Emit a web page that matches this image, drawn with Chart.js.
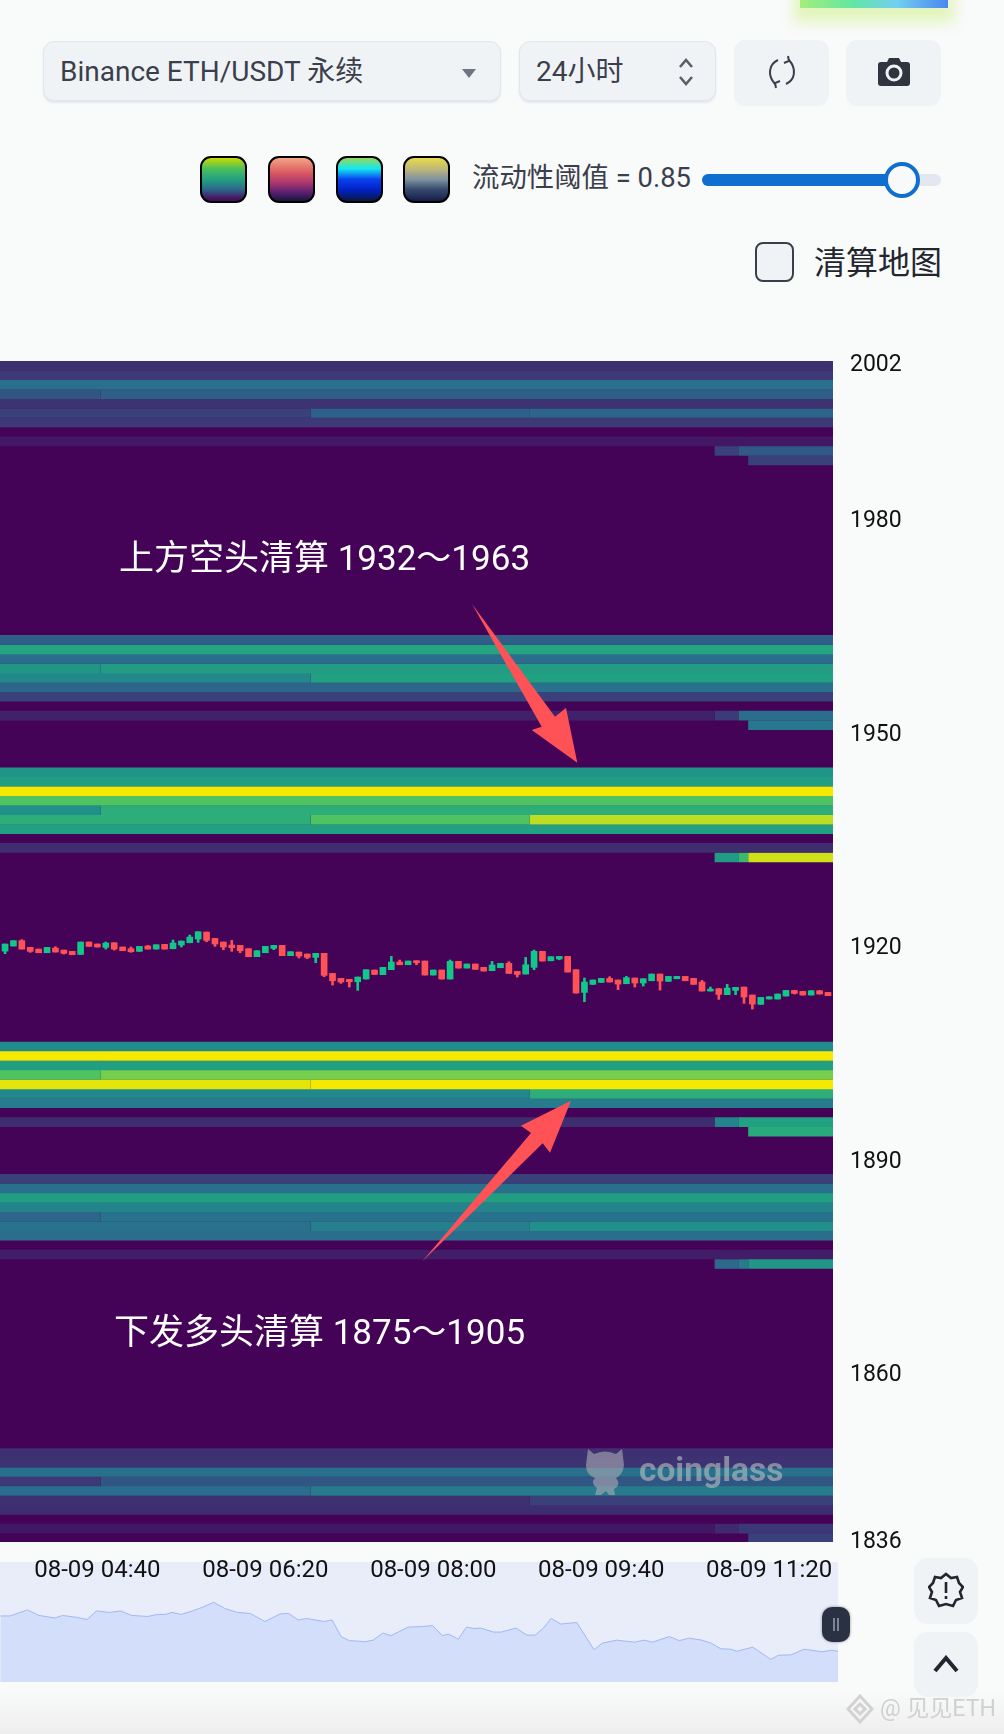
<!DOCTYPE html>
<html lang="zh">
<head>
<meta charset="utf-8">
<title>ETH liquidation heatmap</title>
<script src="https://cdn.jsdelivr.net/npm/chart.js@4/dist/chart.umd.min.js"></script>
<style>
html,body{margin:0;padding:0;background:#f9fafa;}
body{position:relative;width:1004px;height:1734px;overflow:hidden;font-family:Roboto,"Noto Sans CJK SC",sans-serif;color:#3b3f4c;}
#fade{position:absolute;left:0;top:1690px;width:1004px;height:44px;background:linear-gradient(#f9fafa,#eeeeee);}
.abs{position:absolute;}
.sel{position:absolute;top:41px;height:60px;box-sizing:border-box;background:#f0f3f6;border:1.5px solid #e2e6ee;border-radius:11px;box-shadow:0 2px 2px #e4e7ee;}
.btn{position:absolute;background:#f0f3f6;border-radius:11px;}
.txt{position:absolute;white-space:nowrap;line-height:1;}
.sw{position:absolute;top:156px;width:47px;height:47px;box-sizing:border-box;border:2px solid #000;border-radius:11px;}
#navBox{position:absolute;left:0;top:1562px;width:838px;height:120px;background:#e9ecf9;}
#mainBox{position:absolute;left:0;top:340px;width:1004px;height:1260px;}
#over{position:absolute;left:0;top:0;}
</style>
</head>
<body>
<div id="fade"></div>

<!-- top right glow -->
<div class="abs" style="left:800px;top:-10px;width:148px;height:18px;background:linear-gradient(90deg,#a4ee7c,#62e6a0 35%,#72d0f0 65%,#4a86f0);box-shadow:0 8px 14px 6px rgba(215,242,160,.7);"></div>

<!-- controls -->
<div class="sel" style="left:43px;width:458px;"></div>
<div class="txt" style="left:60px;top:58px;font-size:28px;">Binance ETH/USDT 永续</div>
<svg class="abs" style="left:462px;top:69px" width="14" height="9"><path d="M0 0H14L7 9Z" fill="#6f7480"/></svg>
<div class="sel" style="left:519px;width:197px;"></div>
<div class="txt" style="left:536px;top:58px;font-size:28px;">24小时</div>
<svg class="abs" style="left:678px;top:56px" width="16" height="32" fill="none" stroke="#5a5f6b" stroke-width="2.6"><path d="M2 11L8 4L14 11M2 21L8 28L14 21"/></svg>
<div class="btn" style="left:734px;top:40px;width:95px;height:66px;"></div>
<svg class="abs" style="left:766px;top:55px" width="32" height="34" fill="none" stroke="#3b3f4c" stroke-width="2"><path d="M12 5C3 9 1 20 9 29M20 29C29 25 31 14 23 5M22 1L23 6L18 8M10 33L9 28L14 26"/></svg>
<div class="btn" style="left:846px;top:40px;width:95px;height:66px;"></div>
<svg class="abs" style="left:878px;top:58px" width="32" height="28"><path d="M9 4L11 0H21L23 4H29Q32 4 32 7V25Q32 28 29 28H3Q0 28 0 25V7Q0 4 3 4Z" fill="#30343f"/><circle cx="16" cy="15" r="7" fill="none" stroke="#f0f3f6" stroke-width="3"/></svg>

<div class="sw" style="left:200px;background:linear-gradient(#c9dc00,#4cbf5c 25%,#22a080 50%,#2c6a8c 72%,#46105e 95%);"></div>
<div class="sw" style="left:268px;background:linear-gradient(#f4a684,#d85760 35%,#b23a6e 55%,#5a2070 80%,#16163c);"></div>
<div class="sw" style="left:336px;background:linear-gradient(#9ad858,#12e8f0 25%,#0a40f0 50%,#0020c0 75%,#0a1840);"></div>
<div class="sw" style="left:403px;background:linear-gradient(#e8dc48,#c0b878 25%,#7c92a0 50%,#3a4c70 72%,#141c48);"></div>
<div class="txt" style="left:472px;top:165px;font-size:27.4px;">流动性阈值 = 0.85</div>
<div class="abs" style="left:702px;top:174px;width:239px;height:12px;border-radius:6px;background:#e3e8f0;"></div>
<div class="abs" style="left:702px;top:174px;width:200px;height:12px;border-radius:6px 0 0 6px;background:#0e6fd0;"></div>
<div class="abs" style="left:884px;top:162px;width:36px;height:36px;box-sizing:border-box;border:4px solid #0e6fd0;border-radius:50%;background:#f8f9fa;"></div>
<div class="abs" style="left:755px;top:242px;width:39px;height:40px;box-sizing:border-box;border:2px solid #3b3f4c;border-radius:8px;background:#f0f3f6;"></div>
<div class="txt" style="left:814px;top:247px;font-size:32px;color:#23262f;">清算地图</div>

<!-- navigator, sits under the main canvas -->
<div id="navBox"><canvas id="navChart" width="838" height="120"></canvas></div>
<!-- heatmap + candles -->
<div id="mainBox"><canvas id="mainChart" width="1004" height="1260"></canvas></div>

<!-- coinglass watermark -->
<svg class="abs" style="left:583px;top:1445px;opacity:.62" width="45" height="50"><path d="M5 4L11 9Q22 4 33 9L39 4L41 20Q40 30 33 33Q39 40 31 44L32 50H26L23 46L18 50H12L14 43Q7 38 12 33Q3 30 3 20Z" fill="#a8a8b2"/></svg>
<div class="txt" style="left:639px;top:1453px;font-size:33.5px;font-weight:700;color:rgba(180,190,194,.62);">coinglass</div>

<!-- annotations -->
<svg id="over" width="1004" height="1734">
<polygon points="472,604 555,716.7 566,708 577.3,762.7 531.7,730 541.7,726.7" fill="#ff5257"/>
<polygon points="422,1261.7 542.7,1143.3 550,1152.7 571,1100.7 521,1125.7 531,1133" fill="#ff5257"/>
</svg>
<div class="txt" style="left:119px;top:541px;font-size:35px;color:#fff;">上方空头清算 1932～1963</div>
<div class="txt" style="left:114px;top:1315px;font-size:35px;color:#fff;">下发多头清算 1875～1905</div>

<!-- navigator handle and side buttons -->
<div class="abs" style="left:822px;top:1607px;width:28px;height:35px;border-radius:10px;background:#2a3142;box-shadow:0 0 3px #8b8f99;"></div>
<svg class="abs" style="left:832px;top:1618px" width="8" height="13" stroke="#9aa0ac" stroke-width="1.5"><path d="M2 0V13M6 0V13"/></svg>
<div class="btn" style="left:914px;top:1558px;width:64px;height:66px;border-radius:14px;"></div>
<svg class="abs" style="left:928px;top:1572px" width="36" height="36" fill="none" stroke="#23262f" stroke-width="2.6"><path d="M18 2L23 6L29 5L31 11L35 15L32 20L34 26L28 28L25 34L18 32L11 34L8 28L2 26L4 20L1 15L5 11L7 5L13 6Z"/><path d="M18 10V21M18 24V27"/></svg>
<div class="btn" style="left:914px;top:1632px;width:64px;height:65px;border-radius:14px;"></div>
<svg class="abs" style="left:933px;top:1655px" width="26" height="18" fill="none" stroke="#23262f" stroke-width="4"><path d="M2 16L13 3L24 16"/></svg>

<!-- source mark -->
<svg class="abs" style="left:846px;top:1694px" width="28" height="30" fill="none" stroke="#d2d2d2" stroke-width="3"><path d="M14 2L26 15L14 28L2 15Z"/><path d="M14 10L19 15L14 20L9 15Z"/></svg>
<div class="txt" style="left:880px;top:1697px;font-size:23px;color:#d0d0d0;">@ 见见ETH</div>

<script>
// time axis, minutes from midnight
let timeTicks = [280, 380, 480, 580, 680];
let timeLabels = ["08-09 04:40", "08-09 06:20", "08-09 08:00", "08-09 09:40", "08-09 11:20"];
let priceTicks = [2002, 1980, 1950, 1920, 1890, 1860, 1836];

// heatmap columns (minutes) and rows (price of each row centre)
let heatEdges = [222, 282, 407, 537.5, 647.5, 662, 667.5, 718];
let heatPrices = [
2001.34,2000.01,1998.68,1997.35,1996.02,1994.69,1993.36,1990.70,1989.37,1988.04,
1962.79,1961.46,1960.13,1958.80,1957.47,1956.14,1954.81,1952.16,1950.83,
1944.19,1942.86,1941.53,1940.20,1938.87,1937.54,1936.21,1933.56,1932.23,
1905.65,1904.32,1902.99,1901.66,1900.33,1899.00,1897.67,1895.02,1893.69,
1887.04,1885.71,1884.38,1883.05,1881.72,1880.39,1879.06,1876.41,1875.08,
1848.50,1847.17,1845.84,1844.51,1843.18,1841.85,1840.52,1837.87,1836.54
];
// liquidity level 0..1 per row, one value for each column
let heatLevels = [
[.13,.13,.13,.13,.13,.13,.13],
[.17,.17,.17,.17,.17,.17,.17],
[.37,.37,.37,.37,.37,.37,.37],
[.27,.3,.3,.3,.3,.3,.3],
[.14,.14,.14,.14,.14,.14,.14],
[.2,.2,.31,.32,.32,.32,.32],
[.17,.17,.17,.17,.17,.17,.17],
[.05,.05,.05,.05,.05,.05,.05],
[0,0,0,0,.2,.28,.28],
[0,0,0,0,0,0,.2],

[.3,.3,.3,.3,.3,.3,.3],
[.6,.6,.6,.6,.6,.6,.6],
[.36,.36,.36,.36,.36,.36,.36],
[.53,.56,.56,.56,.56,.56,.56],
[.47,.47,.58,.58,.58,.58,.58],
[.33,.33,.33,.38,.38,.38,.38],
[.2,.2,.2,.2,.2,.2,.2],
[.08,.08,.08,.08,.18,.36,.36],
[0,0,0,0,0,0,.4],

[.52,.52,.52,.52,.52,.52,.52],
[.57,.57,.57,.57,.57,.57,.57],
[1,1,1,1,1,1,1],
[.72,.72,.72,.72,.72,.72,.72],
[.5,.63,.63,.63,.63,.63,.63],
[.63,.63,.72,.9,.9,.9,.9],
[.58,.58,.58,.58,.58,.58,.58],
[.12,.12,.12,.12,.12,.12,.12],
[0,0,0,0,.55,.68,.93],

[.48,.48,.48,.48,.48,.48,.48],
[1,1,1,1,1,1,1],
[.57,.57,.57,.57,.57,.57,.57],
[.72,.79,.79,.79,.79,.79,.79],
[.97,.97,1,1,1,1,1],
[.47,.47,.47,.63,.63,.63,.63],
[.42,.42,.42,.42,.42,.42,.42],
[.12,.12,.12,.12,.45,.58,.58],
[0,0,0,0,0,0,.62],

[.2,.2,.2,.2,.2,.2,.2],
[.37,.37,.37,.37,.37,.37,.37],
[.57,.57,.57,.57,.57,.57,.57],
[.45,.45,.45,.45,.45,.45,.45],
[.33,.38,.38,.38,.38,.38,.38],
[.38,.38,.43,.5,.5,.5,.5],
[.36,.36,.36,.36,.36,.36,.36],
[.07,.07,.07,.07,.07,.07,.07],
[0,0,0,0,.34,.42,.53],

[.13,.13,.13,.13,.13,.13,.13],
[.14,.14,.14,.14,.14,.14,.14],
[.37,.37,.37,.37,.37,.37,.37],
[.17,.27,.27,.27,.27,.27,.27],
[.36,.36,.42,.42,.42,.42,.42],
[.13,.13,.13,.2,.2,.2,.2],
[.12,.12,.12,.12,.12,.12,.12],
[.05,.05,.05,.05,.1,.16,.16],
[0,0,0,0,0,0,.2]
];

// 5 minute candles
let candleTimes = [225,230,235,240,245,250,255,260,265,270,275,280,285,290,295,300,305,310,315,320,325,330,335,340,345,350,355,360,365,370,375,380,385,390,395,400,405,410,415,420,425,430,435,440,445,450,455,460,465,470,475,480,485,490,495,500,505,510,515,520,525,530,535,540,545,550,555,560,565,570,575,580,585,590,595,600,605,610,615,620,625,630,635,640,645,650,655,660,665,670,675,680,685,690,695,700,705,710,715];
let opens = [1919.06,1919.77,1920.52,1919.58,1919.34,1918.83,1919.48,1919.20,1919.02,1918.59,1920.33,1920.05,1919.58,1920.23,1919.63,1919.39,1919.02,1919.77,1919.34,1920.00,1919.39,1919.91,1920.23,1920.75,1921.73,1920.84,1920.33,1919.91,1919.86,1919.39,1918.27,1918.83,1919.44,1919.86,1918.41,1918.92,1918.64,1918.17,1918.74,1915.92,1915.22,1915.08,1914.75,1915.13,1916.39,1915.74,1916.44,1917.52,1917.14,1917.70,1917.66,1915.69,1916.39,1915.13,1917.61,1916.67,1917.24,1916.77,1916.30,1916.72,1917.33,1916.20,1915.83,1916.77,1919.02,1917.70,1917.94,1918.31,1916.44,1913.25,1914.38,1914.66,1915.22,1914.99,1914.47,1915.27,1914.57,1914.89,1915.83,1914.80,1915.17,1915.50,1915.22,1914.71,1913.44,1913.77,1912.93,1913.53,1914.00,1912.88,1911.57,1912.32,1912.32,1912.74,1913.53,1913.39,1912.88,1913.49,1913.25];
let highs = [1920.05,1920.52,1920.66,1919.58,1919.34,1919.58,1919.67,1919.20,1919.02,1920.33,1920.33,1920.05,1920.33,1920.23,1919.63,1919.63,1919.72,1919.86,1919.95,1920.00,1920.61,1920.47,1921.31,1921.78,1921.73,1920.84,1920.33,1920.56,1919.86,1919.39,1919.11,1919.72,1919.86,1919.86,1918.97,1918.92,1918.64,1918.74,1918.74,1915.92,1915.22,1915.08,1915.41,1916.44,1916.39,1916.77,1918.31,1917.80,1917.66,1917.70,1917.66,1916.39,1916.39,1917.80,1917.61,1917.24,1917.24,1916.77,1917.61,1917.33,1917.56,1916.20,1918.17,1919.20,1919.02,1918.27,1918.31,1918.31,1916.44,1915.27,1914.99,1915.22,1915.46,1914.99,1915.50,1915.27,1915.17,1915.83,1915.83,1915.50,1915.50,1915.50,1915.22,1914.94,1914.00,1913.77,1914.38,1913.96,1914.00,1912.88,1912.55,1912.64,1913.02,1913.53,1913.53,1913.39,1913.49,1913.49,1913.25];
let lows = [1918.69,1919.77,1919.34,1918.88,1918.83,1918.83,1918.92,1918.64,1918.55,1918.59,1919.72,1919.63,1919.34,1919.20,1919.11,1918.88,1919.02,1919.34,1919.34,1919.34,1919.39,1919.63,1920.23,1920.28,1920.37,1919.72,1919.25,1919.02,1918.83,1918.27,1918.27,1918.83,1919.25,1918.41,1918.41,1918.08,1917.99,1917.42,1915.46,1914.28,1914.52,1914.00,1913.53,1915.13,1915.78,1915.74,1916.44,1917.14,1917.14,1917.14,1915.69,1915.69,1915.13,1915.13,1916.67,1916.67,1916.49,1916.25,1916.30,1916.72,1915.92,1915.41,1915.83,1916.44,1917.66,1917.70,1917.84,1916.11,1913.16,1911.94,1914.38,1914.66,1914.71,1913.63,1914.47,1914.00,1914.14,1914.89,1913.58,1914.80,1915.17,1914.89,1914.38,1913.44,1913.44,1912.27,1912.93,1912.93,1911.71,1910.91,1911.57,1912.32,1912.32,1912.74,1913.02,1912.88,1912.88,1913.02,1912.79];
let closes = [1920.05,1920.52,1919.34,1919.02,1918.83,1919.58,1918.92,1918.74,1918.55,1920.33,1919.72,1919.63,1920.19,1919.34,1919.11,1918.97,1919.72,1919.34,1919.95,1919.34,1920.19,1920.47,1921.03,1921.78,1920.56,1920.05,1919.63,1919.53,1919.11,1918.27,1919.11,1919.72,1919.86,1918.41,1918.97,1918.36,1918.17,1918.74,1915.64,1914.89,1914.71,1914.75,1915.41,1916.44,1915.78,1916.77,1917.52,1917.14,1917.66,1917.42,1915.69,1916.39,1915.13,1917.61,1916.67,1917.24,1916.49,1916.25,1917.10,1917.33,1915.92,1915.78,1917.14,1919.02,1917.66,1918.27,1918.31,1916.11,1913.16,1914.71,1914.99,1915.22,1914.71,1914.42,1915.32,1914.57,1915.17,1915.83,1914.85,1915.50,1915.50,1914.89,1914.38,1913.44,1913.72,1912.97,1913.86,1913.96,1912.60,1911.61,1912.55,1912.64,1913.02,1913.53,1913.11,1912.88,1913.49,1913.02,1912.79];

// navigator line
let navTimes = [222.3,228,238.3,245.2,254.7,259.3,268,273.8,279.5,287.1,293.6,300.4,310,315.7,320.6,324.4,329.8,336.6,342.3,349.2,355.7,363.3,370.9,379.7,388.8,393.8,399.5,404.5,414.8,419.7,425,430,439.5,444.1,449.8,454.8,465,473.8,479.5,485.3,489,494.8,499.7,504.3,508.1,515.8,520.3,529.1,535.6,540.5,545.5,550,555.8,565.3,575.6,580.5,589,599.6,605.3,610.3,620.5,626.3,632,639.6,645.3,651,656.8,660.6,670.1,680.8,685.3,693,700.6,711.2,717,720.8];
let navPrices = [1919.6,1919.6,1920.8,1919.7,1919.2,1919.7,1919.3,1918.9,1920.6,1920.3,1920.6,1919.7,1919.5,1919.9,1919.9,1920.3,1919.9,1920.6,1921.3,1922.3,1921.1,1920.3,1920.1,1918.5,1920,1920.1,1918.8,1919.1,1918.5,1918.8,1915.5,1914.7,1914.5,1914.8,1916.2,1915.7,1917.4,1917.5,1917.7,1915.7,1916,1915,1917.4,1917.1,1917.2,1916.4,1916.4,1917.2,1915.8,1915.8,1917.2,1919.1,1918,1918.3,1912.9,1914.2,1914.8,1914.4,1914.8,1914.4,1915.5,1914.7,1915.2,1914.8,1914.2,1913.1,1913,1912.6,1913.4,1911,1911.8,1911.9,1913,1912.5,1912.8,1912.6];

// colour scale
let scaleStops = ["#450358","#3f2a6e","#3a4079","#2f5f88","#27778e","#21908a","#22a580","#44be68","#7ad14a","#bddd22","#f5e900"];

function levelColor(v){
    let pos = v * (scaleStops.length - 1);
    let i = Math.min(Math.floor(pos), scaleStops.length - 2);
    let t = pos - i;
    let a = parseInt(scaleStops[i].slice(1), 16);
    let b = parseInt(scaleStops[i + 1].slice(1), 16);
    let r = Math.round((a >> 16) + ((b >> 16) - (a >> 16)) * t);
    let g = Math.round(((a >> 8) & 255) + (((b >> 8) & 255) - ((a >> 8) & 255)) * t);
    let bl = Math.round((a & 255) + ((b & 255) - (a & 255)) * t);
    return "rgb(" + r + "," + g + "," + bl + ")";
}

let xMin = heatEdges[0];
let xMax = heatEdges[heatEdges.length - 1];
let rowPx = 9.7;
let datasets = [];

// each run of equal cells in a row becomes one thick butt-ended line
heatPrices.forEach(function(price, r){
    let levels = heatLevels[r];
    let c = 0;
    while(c < levels.length){
        let end = c;
        while(end + 1 < levels.length && levels[end + 1] === levels[c]) end++;
        if(levels[c] > 0){
            datasets.push({
                type: "line",
                data: [{x: heatEdges[c], y: price}, {x: heatEdges[end + 1], y: price}],
                borderColor: levelColor(levels[c]),
                borderWidth: rowPx,
                borderCapStyle: "butt",
                pointRadius: 0,
                order: 3
            });
        }
        c = end + 1;
    }
});

let upColor = "#12c78a";
let downColor = "#ff5257";
let bodyColors = [];
let wickColors = [];
candleTimes.forEach(function(t, i){
    let col = closes[i] >= opens[i] ? upColor : downColor;
    bodyColors.push(col);
    wickColors.push(col);
});

datasets.push({
    type: "bar",
    data: candleTimes.map((t, i) => ({x: t, y: [lows[i], highs[i]]})),
    backgroundColor: wickColors,
    barThickness: 2,
    grouped: false,
    order: 2
});
datasets.push({
    type: "bar",
    data: candleTimes.map((t, i) => ({x: t, y: [opens[i], closes[i]]})),
    backgroundColor: bodyColors,
    barThickness: 6,
    grouped: false,
    order: 1
});

// empty cells are level 0, just paint the plot area with it
let plotBackground = {
    id: "plotBackground",
    beforeDatasetsDraw: function(chart){
        let a = chart.chartArea;
        chart.ctx.save();
        chart.ctx.fillStyle = levelColor(0);
        chart.ctx.fillRect(a.left, a.top, a.right - a.left, a.bottom - a.top);
        chart.ctx.restore();
    }
};

new Chart(document.getElementById("mainChart"), {
    type: "bar",
    data: {datasets: datasets},
    plugins: [plotBackground],
    options: {
        responsive: false,
        animation: false,
        events: [],
        layout: {padding: {top: 21, left: 0, right: 0, bottom: 0}},
        plugins: {
            legend: {display: false},
            tooltip: {enabled: false}
        },
        scales: {
            x: {
                type: "linear",
                offset: false,
                min: xMin,
                max: xMax,
                grid: {display: false, drawTicks: false},
                border: {display: false},
                afterBuildTicks: function(scale){
                    scale.ticks = timeTicks.map(v => ({value: v}));
                },
                afterFit: function(scale){
                    scale.height = 58;
                    scale.paddingLeft = 0;
                    scale.paddingRight = 0;
                },
                ticks: {
                    autoSkip: false,
                    maxRotation: 0,
                    padding: 15,
                    color: "#111",
                    font: {family: "Roboto", size: 24},
                    callback: function(v){ return timeLabels[timeTicks.indexOf(v)]; }
                }
            },
            y: {
                type: "linear",
                position: "right",
                min: 1836,
                max: 2002,
                grid: {display: false, drawTicks: false},
                border: {display: false},
                afterBuildTicks: function(scale){
                    scale.ticks = priceTicks.map(v => ({value: v}));
                },
                afterFit: function(scale){
                    scale.width = 171;
                    scale.paddingTop = 0;
                    scale.paddingBottom = 0;
                },
                ticks: {
                    autoSkip: false,
                    padding: 17,
                    color: "#111",
                    // blank first line pushes the label down a few px, bottom label stays put
                    font: {family: "Roboto", size: 23, lineHeight: 0.35},
                    callback: function(v){
                        if(v === 1836) return String(v);
                        return ["", String(v)];
                    }
                }
            }
        }
    }
});

new Chart(document.getElementById("navChart"), {
    type: "line",
    data: {
        datasets: [{
            data: navTimes.map((t, i) => ({x: t, y: navPrices[i]})),
            borderColor: "#9db8f5",
            borderWidth: 1,
            backgroundColor: "#d3dffa",
            fill: "start",
            pointRadius: 0,
            tension: 0
        }]
    },
    options: {
        responsive: false,
        animation: false,
        events: [],
        layout: {padding: 0},
        plugins: {
            legend: {display: false},
            tooltip: {enabled: false}
        },
        scales: {
            x: {type: "linear", display: false, min: 222, max: 720.8},
            y: {type: "linear", display: false, min: 1906.5, max: 1930.3}
        }
    }
});
</script>
</body>
</html>
